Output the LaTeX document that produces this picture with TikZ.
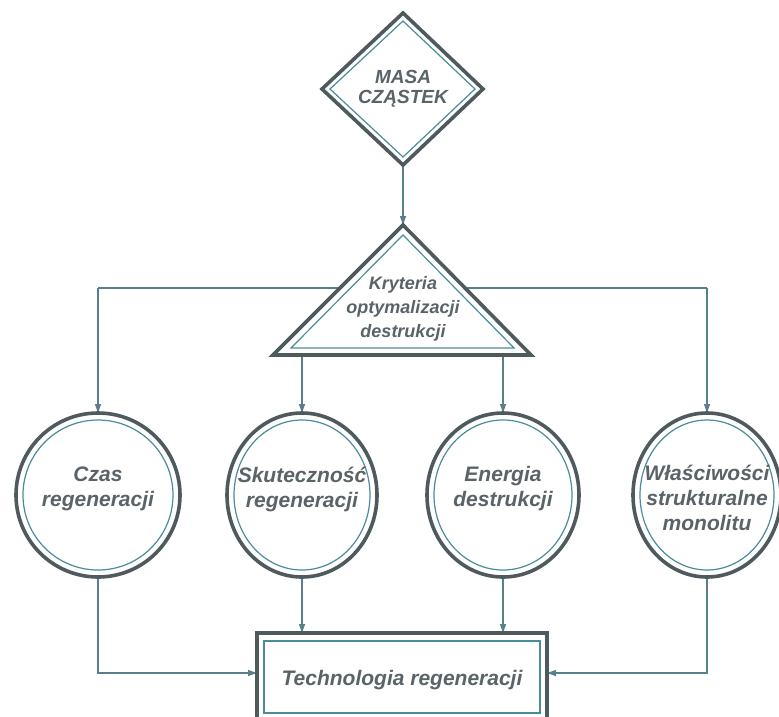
\documentclass[tikz,border=0pt]{standalone}
\usepackage{fontspec}
\setmainfont{Liberation Sans}
\usetikzlibrary{arrows.meta}
\definecolor{outerc}{HTML}{4F5A5E}
\definecolor{innerc}{HTML}{4A8C9C}
\definecolor{linkc}{HTML}{5A7F8C}
\definecolor{textc}{HTML}{5A6367}
\tikzset{
  outerline/.style={draw=outerc, line width=3.6pt, line join=miter, fill=white},
  innerline/.style={draw=innerc, line width=1.2pt},
  link/.style={draw=linkc, line width=1.3pt, -{Triangle[length=9pt,width=6pt]}},
  plain/.style={draw=linkc, line width=1.3pt},
  lbl/.style={text=textc, font=\bfseries\itshape, align=center, inner sep=0pt},
}
\begin{document}
\begin{tikzpicture}[x=1pt,y=-1pt]
\useasboundingbox (0,0) rectangle (779,716);
\clip (0,0) rectangle (779,716);
% coordinates
\coordinate (dT) at (403,13);
\coordinate (dB) at (403,165);
\coordinate (tA) at (403,225);
\coordinate (tL) at (302,355);
\coordinate (tR) at (503,355);
\coordinate (hL) at (98,288);
\coordinate (hR) at (707,288);
\coordinate (c1t) at (98,413);
\coordinate (c2t) at (302,413);
\coordinate (c3t) at (503,413);
\coordinate (c4t) at (707,413);
\coordinate (c1b) at (98,577);
\coordinate (c2b) at (302,577);
\coordinate (c3b) at (503,577);
\coordinate (c4b) at (707,577);
\coordinate (k1) at (98,673);
\coordinate (k4) at (707,673);
\coordinate (bL) at (257,673);
\coordinate (bR) at (547,673);
\coordinate (b2) at (302,633);
\coordinate (b3) at (503,633);

% connectors behind shapes
\draw[link] (dB) -- (tA);
\draw[plain] (hL) -- (hR);
\draw[link] (hL) -- (c1t);
\draw[link] (hR) -- (c4t);
\draw[link] (tL) -- (c2t);
\draw[link] (tR) -- (c3t);
\draw[link] (c1b) -- (k1) -- (bL);
\draw[link] (c4b) -- (k4) -- (bR);
\draw[link] (c2b) -- (b2);
\draw[link] (c3b) -- (b3);

% diamond
\path[outerline] (403,13) -- (483,89) -- (403,165) -- (322,89) -- cycle;
\draw[innerline] (403,21) -- (475,89) -- (403,157) -- (330,89) -- cycle;
\node[lbl, font=\fontsize{19}{20}\selectfont\bfseries\itshape] (masa) at (403,89) {MASA\\CZĄSTEK};

% triangle
\path[outerline] (403,225) -- (531,355) -- (273,355) -- cycle;
\draw[innerline] (403,235) -- (514,348) -- (291,348) -- cycle;
\node[lbl, font=\fontsize{18}{24}\selectfont\bfseries\itshape] (krit) at (403,309) {Kryteria\\optymalizacji\\destrukcji};

% circles
\path[outerline] (98,495) ellipse [x radius=82, y radius=82];
\draw[innerline] (98,495) ellipse [x radius=75, y radius=75];
\path[outerline] (302,495) ellipse [x radius=75, y radius=82];
\draw[innerline] (302,495) ellipse [x radius=68, y radius=75];
\path[outerline] (503,495) ellipse [x radius=76, y radius=82];
\draw[innerline] (503,495) ellipse [x radius=69, y radius=75];
\path[outerline] (707,495) ellipse [x radius=74, y radius=82];
\draw[innerline] (707,495) ellipse [x radius=67, y radius=75];
\tikzset{clbl/.style={lbl, font=\fontsize{21}{25}\selectfont\bfseries\itshape}}
\node[clbl] (n1) at (98,489) {Czas\\regeneracji};
\node[clbl] (n2) at (302,489) {Skuteczność\\regeneracji};
\node[clbl] (n3) at (503,489) {Energia\\destrukcji};
\node[clbl] (n4) at (707,498) {Właściwości\\strukturalne\\monolitu};

% box
\path[outerline] (257,633) rectangle (547,740);
\draw[innerline] (264,641) rectangle (540,713);
\node[lbl, font=\fontsize{21}{25}\selectfont\bfseries\itshape] (tech) at (402,680) {Technologia regeneracji};
\end{tikzpicture}
\end{document}
